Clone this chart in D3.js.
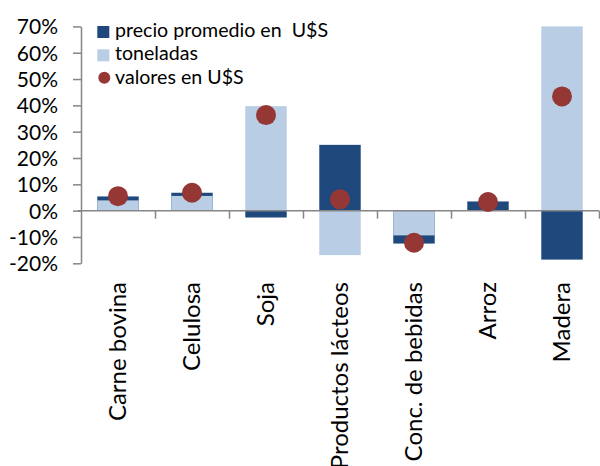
<!DOCTYPE html>
<html><head><meta charset="utf-8">
<script src="https://cdn.jsdelivr.net/npm/d3@7"></script>
<style>body{margin:0;background:#fff}svg{display:block}text{font-family:Lato,"Open Sans",sans-serif;fill:#000}</style>
</head><body><svg id="c" width="600" height="466"></svg>
<script>
const categories = ["Carne bovina","Celulosa","Soja","Productos lácteos","Conc. de bebidas","Arroz","Madera"];
const precio = [5.4, 6.8, -2.6, 25.0, -12.5, 3.5, -18.6];
const toneladas = [3.9, 5.6, 39.7, -16.9, -9.4, 0, 70.0];
const valores = [5.5, 6.8, 36.3, 4.3, -12.2, 3.3, 43.4];
const yTicks = [-20,-10,0,10,20,30,40,50,60,70];
const legendLabels = ["precio promedio en  U$S","toneladas","valores en U$S"];

const colDark = "#1F497D", colLight = "#B9CDE5", colDot = "#953735", axisCol = "#868686";
const svg = d3.select("#c");
const x = d3.scaleBand().domain(categories).range([81, 599]).paddingInner(0.44).paddingOuter(0.22);
const y = d3.scaleLinear().domain([-20, 70]).range([263.3, 26.4]);

// bars: precio first, toneladas on top
svg.append("g").selectAll("rect").data(categories).join("rect")
  .attr("x", d => x(d)).attr("width", x.bandwidth())
  .attr("y", (d,i) => y(Math.max(0, precio[i]))).attr("height", (d,i) => Math.abs(y(precio[i]) - y(0)))
  .attr("fill", colDark);
svg.append("g").selectAll("rect").data(categories).join("rect")
  .attr("x", d => x(d)).attr("width", x.bandwidth())
  .attr("y", (d,i) => y(Math.max(0, toneladas[i]))).attr("height", (d,i) => Math.abs(y(toneladas[i]) - y(0)))
  .attr("fill", colLight);

// y axis
const yAxis = svg.append("g").attr("transform", "translate(81,0)")
  .call(d3.axisLeft(y).tickValues(yTicks).tickSize(8).tickSizeOuter(0).tickPadding(15).tickFormat(d => d + "%"));
yAxis.selectAll("line").attr("stroke", axisCol).attr("stroke-width", 1.5);
yAxis.select(".domain").attr("stroke", axisCol).attr("stroke-width", 1.5);
yAxis.selectAll("text").attr("font-size", 21).attr("font-family", "Lato").attr("fill", "#000").attr("dy", "0.36em");

// x axis at zero
const xb = d3.scaleLinear().domain([0, categories.length]).range([81, 599]);
const xAxis = svg.append("g").attr("transform", `translate(0,${y(0)})`)
  .call(d3.axisBottom(xb).tickValues(d3.range(1, categories.length + 1)).tickSize(8).tickSizeOuter(0).tickFormat(""));
xAxis.selectAll("line").attr("stroke", axisCol).attr("stroke-width", 1.5);
xAxis.select(".domain").attr("stroke", axisCol).attr("stroke-width", 1.5).attr("d", "M78,0H599");

// category labels
svg.append("g").selectAll("text").data(categories).join("text")
  .attr("transform", d => `translate(${x(d) + x.bandwidth()/2 + 8},282) rotate(-90)`)
  .attr("text-anchor", "end").attr("font-size", 24).text(d => d);

// dots
svg.append("g").selectAll("circle").data(categories).join("circle")
  .attr("cx", d => x(d) + x.bandwidth()/2).attr("cy", (d,i) => y(valores[i])).attr("r", 10)
  .attr("fill", colDot);

// legend
const lg = svg.append("g");
const base = [37, 60.3, 83.6];
lg.append("rect").attr("x", 97.3).attr("y", 26).attr("width", 12).attr("height", 12).attr("fill", colDark);
lg.append("rect").attr("x", 97.3).attr("y", 49.3).attr("width", 12).attr("height", 12).attr("fill", colLight);
lg.append("circle").attr("cx", 104.3).attr("cy", 77.7).attr("r", 6).attr("fill", colDot);
lg.selectAll("text.l").data(legendLabels).join("text").attr("class","l")
  .attr("x", 115).attr("y", (d,i) => base[i]).attr("font-size", 19.6)
  .attr("xml:space", "preserve").style("white-space", "pre").text(d => d);
</script></body></html>
